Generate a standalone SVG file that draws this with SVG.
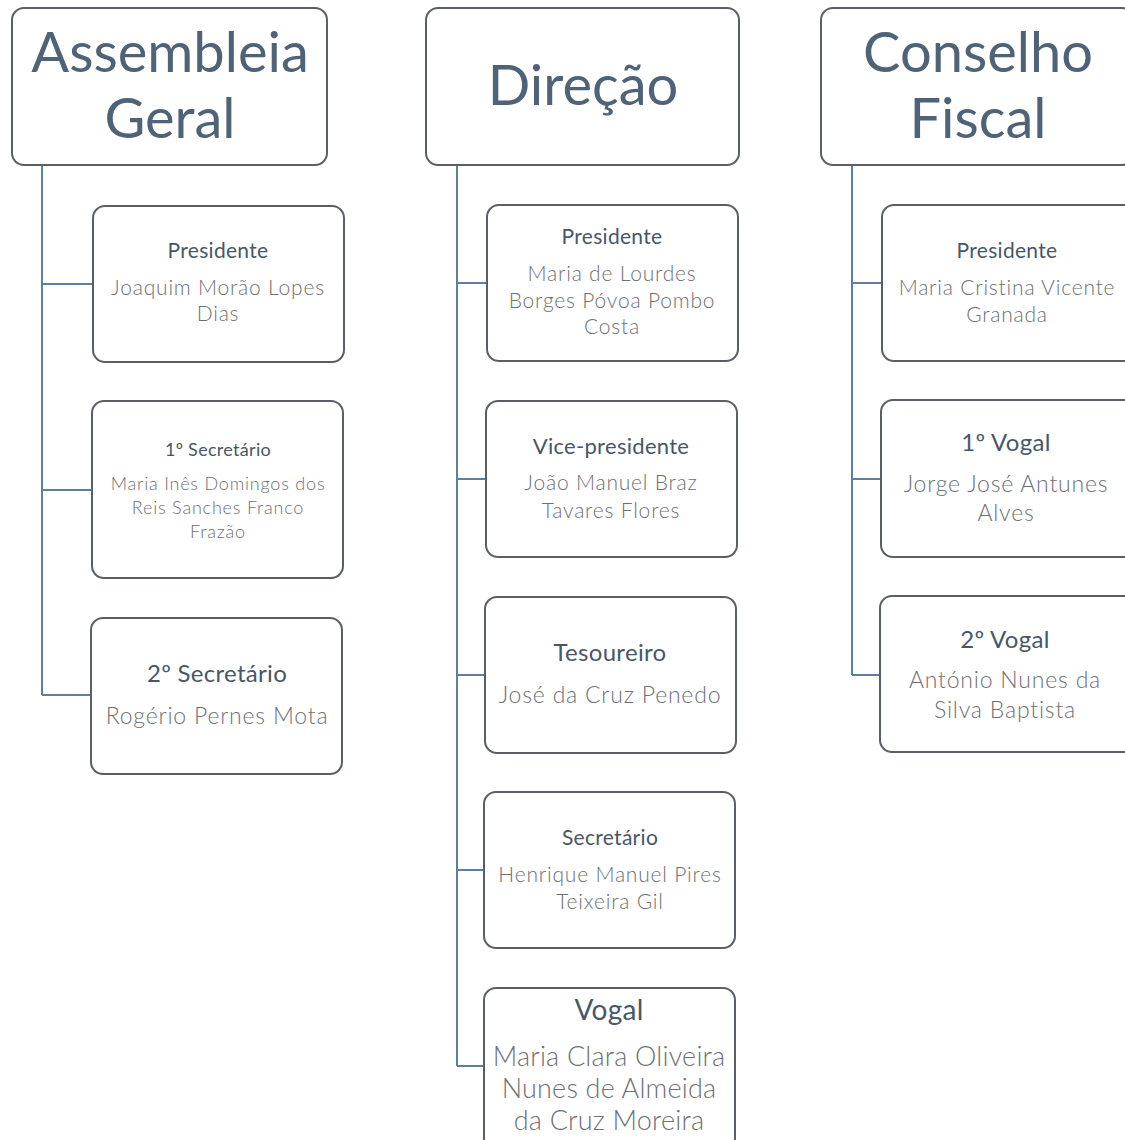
<svg xmlns="http://www.w3.org/2000/svg" width="1125" height="1140" viewBox="0 0 1125 1140">
<style>
.hdr{fill:#fff;stroke:#5a5f66;stroke-width:2}
.box{fill:#fff;stroke:#5a5f66;stroke-width:2}
.conn{stroke:#5f7f9f;stroke-width:2;fill:none}
text{font-family:Lato,"Open Sans","Liberation Sans",sans-serif;text-anchor:middle}
.h{font-size:56px;fill:#4f6378}
.t{fill:#485766;font-weight:400;letter-spacing:0.3px}
.n{fill:#6e7073;font-weight:300;letter-spacing:0.8px}
.v{letter-spacing:0.2px}
</style>
<rect width="1125" height="1140" fill="#fff"/>
<g id="connectors">
<path class="conn" d="M42 165V695M42 284H93M42 490H92M42 695H91"/>
<path class="conn" d="M457 165V1066M457 283H487M457 479H486M457 675H485M457 870H484M457 1066H484"/>
<path class="conn" d="M852 165V675M852 283H882M852 479H881M852 675H880"/>
</g>
<g id="assembleia">
<rect class="hdr" x="12" y="8" width="315" height="157" rx="12"/>
<text class="h" x="170" y="72">Assembleia</text>
<text class="h" x="170" y="138">Geral</text>
</g>
<g id="direcao">
<rect class="hdr" x="426" y="8" width="313" height="157" rx="12"/>
<text class="h" x="583" y="105">Direção</text>
</g>
<g id="conselho">
<rect class="hdr" x="821" y="8" width="313" height="157" rx="12"/>
<text class="h" x="978" y="72">Conselho</text>
<text class="h" x="978" y="138">Fiscal</text>
</g>
<g id="ag-presidente">
<rect class="box" x="93" y="206" width="251" height="156" rx="12"/>
<text class="t" x="218" y="258" font-size="21">Presidente</text>
<text class="n" x="218" y="295" font-size="21">Joaquim Morão Lopes</text>
<text class="n" x="218" y="321" font-size="21">Dias</text>
</g>
<g id="ag-sec1">
<rect class="box" x="92" y="401" width="251" height="177" rx="12"/>
<text class="t" x="218" y="456" font-size="18">1º Secretário</text>
<text class="n" x="218" y="490" font-size="18">Maria Inês Domingos dos</text>
<text class="n" x="218" y="514" font-size="18">Reis Sanches Franco</text>
<text class="n" x="218" y="538" font-size="18">Frazão</text>
</g>
<g id="ag-sec2">
<rect class="box" x="91" y="618" width="251" height="156" rx="12"/>
<text class="t" x="217" y="682" font-size="24">2º Secretário</text>
<text class="n" x="217" y="724" font-size="23">Rogério Pernes Mota</text>
</g>
<g id="d-presidente">
<rect class="box" x="487" y="205" width="251" height="156" rx="12"/>
<text class="t" x="612" y="244" font-size="21">Presidente</text>
<text class="n" x="612" y="281" font-size="21">Maria de Lourdes</text>
<text class="n" x="612" y="308" font-size="21">Borges Póvoa Pombo</text>
<text class="n" x="612" y="334" font-size="21">Costa</text>
</g>
<g id="d-vice">
<rect class="box" x="486" y="401" width="251" height="156" rx="12"/>
<text class="t" x="611" y="454" font-size="22">Vice-presidente</text>
<text class="n" x="611" y="490" font-size="21">João Manuel Braz</text>
<text class="n" x="611" y="518" font-size="21">Tavares Flores</text>
</g>
<g id="d-tesoureiro">
<rect class="box" x="485" y="597" width="251" height="156" rx="12"/>
<text class="t" x="610" y="661" font-size="24">Tesoureiro</text>
<text class="n" x="610" y="703" font-size="23">José da Cruz Penedo</text>
</g>
<g id="d-secretario">
<rect class="box" x="484" y="792" width="251" height="156" rx="12"/>
<text class="t" x="610" y="845" font-size="21">Secretário</text>
<text class="n" x="610" y="882" font-size="21">Henrique Manuel Pires</text>
<text class="n" x="610" y="909" font-size="21">Teixeira Gil</text>
</g>
<g id="d-vogal">
<rect class="box" x="484" y="988" width="251" height="162" rx="12"/>
<text class="t" x="609" y="1020" font-size="28">Vogal</text>
<text class="n v" x="609" y="1066" font-size="27">Maria Clara Oliveira</text>
<text class="n v" x="609" y="1098" font-size="27">Nunes de Almeida</text>
<text class="n v" x="609" y="1130" font-size="27">da Cruz Moreira</text>
</g>
<g id="cf-presidente">
<rect class="box" x="882" y="205" width="260" height="156" rx="12"/>
<text class="t" x="1007" y="258" font-size="21">Presidente</text>
<text class="n" x="1007" y="295" font-size="21">Maria Cristina Vicente</text>
<text class="n" x="1007" y="322" font-size="21">Granada</text>
</g>
<g id="cf-vogal1">
<rect class="box" x="881" y="400" width="260" height="157" rx="12"/>
<text class="t" x="1006" y="451" font-size="24">1º Vogal</text>
<text class="n" x="1006" y="492" font-size="23">Jorge José Antunes</text>
<text class="n" x="1006" y="521" font-size="23">Alves</text>
</g>
<g id="cf-vogal2">
<rect class="box" x="880" y="596" width="260" height="156" rx="12"/>
<text class="t" x="1005" y="648" font-size="24">2º Vogal</text>
<text class="n" x="1005" y="688" font-size="23">António Nunes da</text>
<text class="n" x="1005" y="718" font-size="23">Silva Baptista</text>
</g>
</svg>
